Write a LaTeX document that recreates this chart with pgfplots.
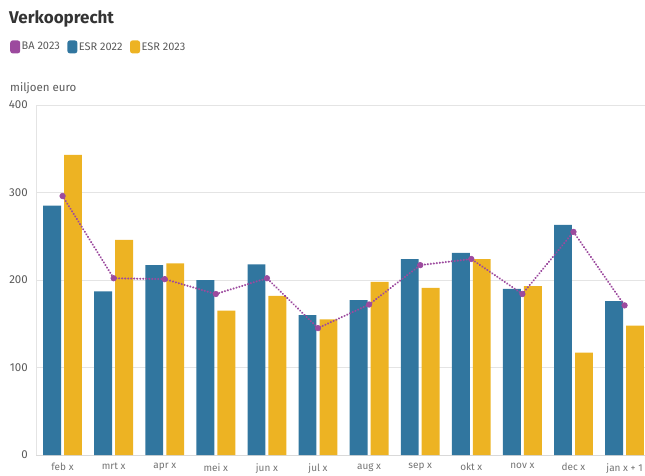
\documentclass[border=0pt]{standalone}
\usepackage{fontspec}
\setmainfont{Fira Sans}
\usepackage{pgfplots}
\pgfplotsset{compat=1.18}
\definecolor{esrblue}{HTML}{31769F}
\definecolor{esryellow}{HTML}{EDB323}
\definecolor{bapurple}{HTML}{9C4A9E}
\definecolor{gridgray}{HTML}{E4E4E4}
\definecolor{tickgray}{HTML}{5A5A5A}
\definecolor{titlegray}{HTML}{333333}

\begin{document}
\begin{tikzpicture}[x=1pt,y=1pt]
\path[use as bounding box] (0,0) rectangle (645,475);
\node[anchor=base west, inner sep=0, text=titlegray, font=\fontsize{17}{20}\selectfont\bfseries] at (9,451) {Verkooprecht};
\node[anchor=base west, inner sep=0, text=tickgray, font=\fontsize{11.5}{13}\selectfont] at (10,384) {miljoen euro};
\begin{axis}[
    at={(36pt,20pt)}, anchor=south west,
    scale only axis,
    width=609pt, height=350pt,
    xmin=-0.52, xmax=11.4,
    ymin=0, ymax=400,
    axis x line=bottom, axis y line=left,
    axis line style={draw=gridgray, -},
    x axis line style={draw=gridgray!70!black!40},
    major tick length=0pt,
    ymajorgrids, grid style={draw=gridgray},
    ytick={0,100,200,300,400},
    xtick={0,...,11},
    xticklabels={feb x, mrt x, apr x, mei x, jun x, jul x, aug x, sep x, okt x, nov x, dec x, jan x + 1},
    /pgf/number format/assume math mode=true,
    yticklabel style={inner sep=0pt, xshift=-8pt, text=tickgray, font=\fontsize{11.5}{13}\selectfont},
    xticklabel style={inner sep=0pt, yshift=-8pt, text=tickgray!85, font=\fontsize{10}{12}\selectfont},
    legend image code/.code={\fill[#1, draw=none, rounded corners=2.5pt] (0pt,-6.5pt) rectangle (10pt,6.5pt);},
    legend style={at={(-0.0427,1.166)}, anchor=west, draw=none, fill=none, inner sep=0pt,
        legend columns=-1, font=\fontsize{11}{13}\selectfont, text=tickgray,
        /tikz/every even column/.append style={column sep=6pt},
        nodes={inner sep=1.5pt}},
    legend cell align=left,
]
\addlegendimage{fill=bapurple}
\addlegendentry{BA 2023}
\addlegendimage{fill=esrblue}
\addlegendentry{ESR 2022}
\addlegendimage{fill=esryellow}
\addlegendentry{ESR 2023}

% ESR 2022
\addplot[forget plot, ybar, bar width=0.35, bar shift=-0.205, fill=esrblue, draw=none] coordinates {
(0,285) (1,187) (2,217) (3,200) (4,218) (5,160) (6,177) (7,224) (8,231) (9,190) (10,263) (11,176)};
% ESR 2023
\addplot[forget plot, ybar, bar width=0.35, bar shift=0.205, fill=esryellow, draw=none] coordinates {
(0,343) (1,246) (2,219) (3,165) (4,182) (5,155) (6,198) (7,191) (8,224) (9,193) (10,117) (11,148)};
% BA 2023
\addplot[forget plot, color=bapurple, line width=2.3pt, line cap=round, dash pattern=on 0.01pt off 3pt,
    mark=*, mark size=2.8pt, mark options={solid, line cap=butt, draw=bapurple, fill=bapurple, line width=0.6pt}] coordinates {
(0,296) (1,202) (2,201) (3,184) (4,202) (5,145) (6,172) (7,217) (8,224) (9,184) (10,255) (11,171)};
\end{axis}
\end{tikzpicture}
\end{document}
